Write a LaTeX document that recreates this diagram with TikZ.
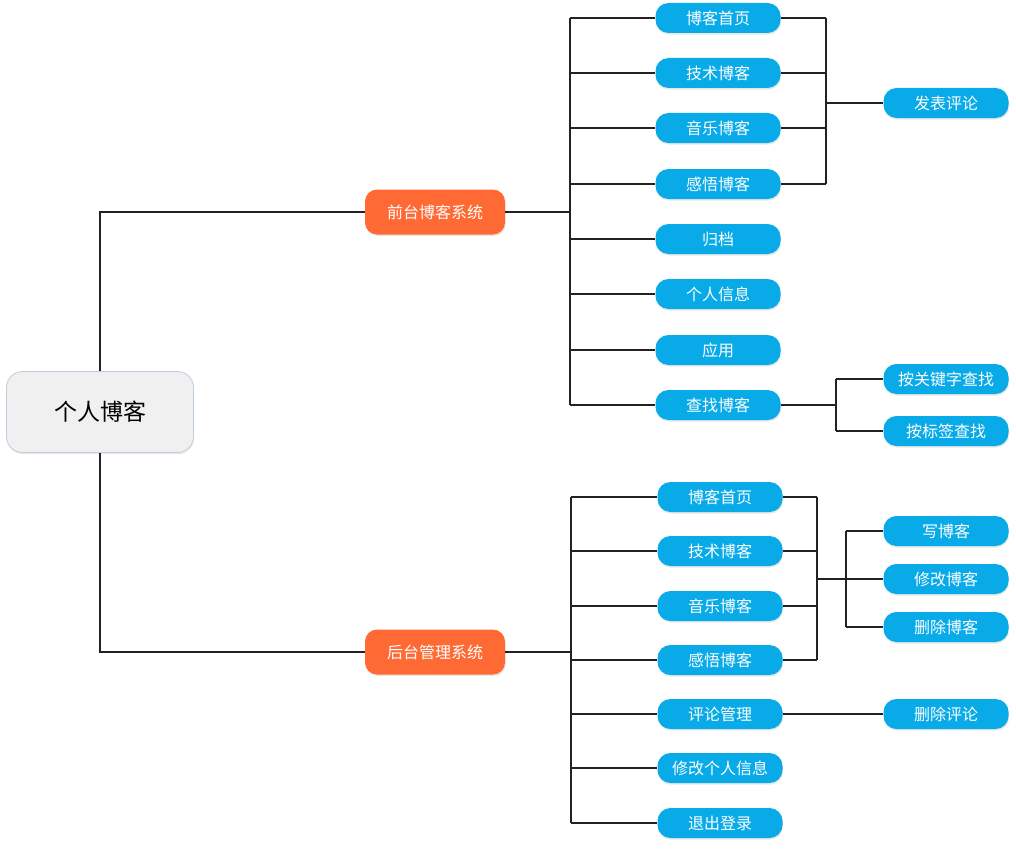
\documentclass[tikz,border=0pt]{standalone}
\usepackage{fontspec}
\setmainfont{Noto Sans CJK SC}
\usetikzlibrary{shadows}
\definecolor{leafblue}{RGB}{8,170,232}
\definecolor{midorange}{RGB}{255,106,52}
\definecolor{rootgray}{RGB}{240,240,240}
\definecolor{rootedge}{RGB}{190,206,224}
\definecolor{wiregray}{RGB}{34,34,34}
\tikzset{
  soft/.style={drop shadow={opacity=0.18, shadow xshift=0.6pt, shadow yshift=-1.6pt}},
  leafbox/.style={soft, fill=leafblue, text=white, rounded corners=13pt,
    minimum width=125pt, minimum height=30pt, inner sep=0pt, font=\fontsize{16}{18}\selectfont},
  midbox/.style={soft, fill=midorange, text=white, rounded corners=12pt,
    minimum width=140pt, minimum height=45pt, inner sep=0pt, font=\fontsize{16}{18}\selectfont},
  rootbox/.style={soft, fill=rootgray, draw=rootedge, line width=0.8pt, rounded corners=16pt,
    minimum width=187pt, minimum height=81pt, inner sep=0pt, font=\fontsize{23}{27}\selectfont},
  wire/.style={draw=wiregray, line width=1.4pt}
}
\begin{document}
\begin{tikzpicture}[x=1pt, y=-1pt]
  \useasboundingbox (0,0) rectangle (1016,848); % keep the page size

  % root and the two systems
  \node[rootbox] (blog) at (100,412) {个人博客};
  \node[midbox] (front) at (435,212) {前台博客系统};
  \node[midbox] (back) at (435,652) {后台管理系统};
  \coordinate (ftop) at (100,212);
  \coordinate (bbot) at (100,652);
  \draw[wire] (blog.north) -- (ftop) -- (front.west);
  \draw[wire] (blog.south) -- (bbot) -- (back.west);

  % front end pages
  \foreach \name/\y [count=\i] in {博客首页/18, 技术博客/73, 音乐博客/128, 感悟博客/184,
      归档/239, 个人信息/294, 应用/350, 查找博客/405} {
    \node[leafbox] (f\i) at (718,\y) {\name};
  }
  \coordinate (fbus) at (570,212);
  \draw[wire] (front.east) -- (fbus);
  \draw[wire] (fbus |- f1) -- (fbus |- f8);
  \foreach \i in {1,...,8} {
    \draw[wire] (fbus |- f\i) -- (f\i.west);
  }

  % comments on the four blog pages
  \node[leafbox] (fcomment) at (946,103) {发表评论};
  \coordinate (fjoin) at (826,103);
  \foreach \i in {1,...,4} {
    \draw[wire] (f\i.east) -- (fjoin |- f\i);
  }
  \draw[wire] (fjoin |- f1) -- (fjoin |- f4);
  \draw[wire] (fjoin) -- (fcomment.west);

  % search
  \node[leafbox] (fkey) at (946,379) {按关键字查找};
  \node[leafbox] (ftag) at (946,431) {按标签查找};
  \coordinate (fsearch) at (836,405);
  \draw[wire] (f8.east) -- (fsearch);
  \draw[wire] (fsearch |- fkey) -- (fsearch |- ftag);
  \draw[wire] (fsearch |- fkey) -- (fkey.west);
  \draw[wire] (fsearch |- ftag) -- (ftag.west);

  % back end pages
  \foreach \name/\y [count=\i] in {博客首页/497, 技术博客/551, 音乐博客/606, 感悟博客/660,
      评论管理/714, 修改个人信息/768, 退出登录/823} {
    \node[leafbox] (b\i) at (720,\y) {\name};
  }
  \coordinate (bbus) at (571,652);
  \draw[wire] (back.east) -- (bbus);
  \draw[wire] (bbus |- b1) -- (bbus |- b7);
  \foreach \i in {1,...,7} {
    \draw[wire] (bbus |- b\i) -- (b\i.west);
  }

  % editing the blog pages
  \node[leafbox] (bwrite) at (946,531) {写博客};
  \node[leafbox] (bedit) at (946,579) {修改博客};
  \node[leafbox] (bdel) at (946,627) {删除博客};
  \coordinate (bjoin) at (817,579);
  \coordinate (bfork) at (846,579);
  \foreach \i in {1,...,4} {
    \draw[wire] (b\i.east) -- (bjoin |- b\i);
  }
  \draw[wire] (bjoin |- b1) -- (bjoin |- b4);
  \draw[wire] (bjoin) -- (bfork);
  \draw[wire] (bfork |- bwrite) -- (bfork |- bdel);
  \foreach \k in {bwrite, bedit, bdel} {
    \draw[wire] (bfork |- \k) -- (\k.west);
  }

  % comment management
  \node[leafbox] (bdelc) at (946,714) {删除评论};
  \draw[wire] (b5.east) -- (bdelc.west);
\end{tikzpicture}
\end{document}
